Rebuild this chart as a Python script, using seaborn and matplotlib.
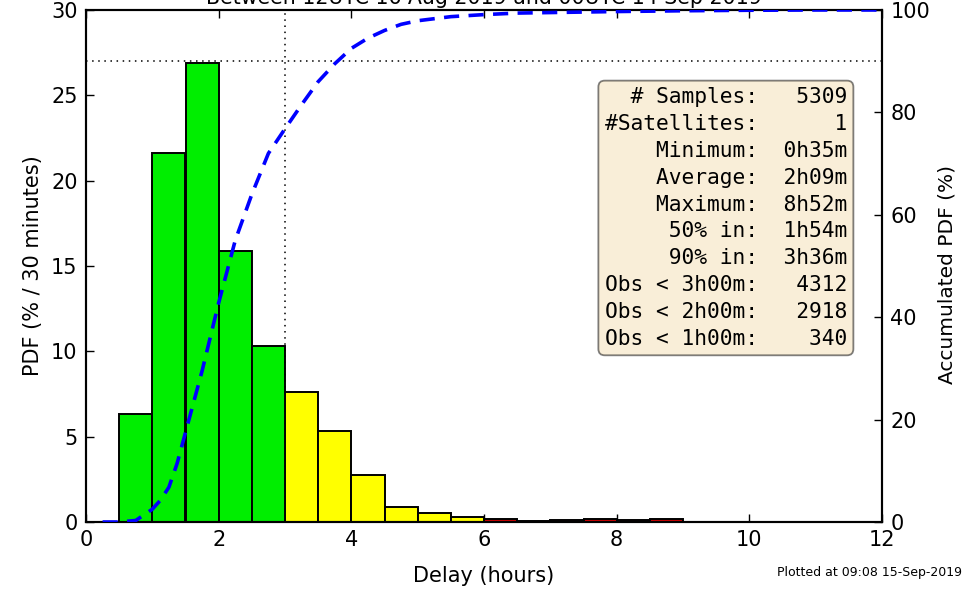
import matplotlib
matplotlib.use("Agg")
import matplotlib.pyplot as plt
import seaborn as sns
import numpy as np
import pandas as pd

# ---- data ----
bin_edges = [0.5, 1.0, 1.5, 2.0, 2.5, 3.0, 3.5, 4.0, 4.5, 5.0, 5.5, 6.0, 6.5, 7.0, 7.5, 8.0, 8.5, 9.0]
bin_centers = [0.75, 1.25, 1.75, 2.25, 2.75, 3.25, 3.75, 4.25, 4.75, 5.25, 5.75, 6.25, 6.75, 7.25, 7.75, 8.25, 8.75]
pdf_values = [6.3, 21.6, 26.9, 15.9, 10.3, 7.6, 5.35, 2.75, 0.9, 0.55, 0.3, 0.2, 0.05, 0.1, 0.15, 0.1, 0.17]
bin_class = ["ok"] * 5 + ["late"] * 6 + ["very late"] * 6

cdf_hours = [0.25, 0.5, 0.75, 1.0, 1.125, 1.25, 1.375, 1.5, 1.75, 2.0, 2.25, 2.5, 2.75, 3.0,
             3.25, 3.5, 3.75, 4.0, 4.25, 4.5, 4.75, 5.0, 5.5, 6.0, 6.5, 7.0, 7.5, 8.0, 9.0,
             10.0, 11.0, 12.0]
cdf_percent = [0, 0, 0.3, 2.5, 4.3, 6.8, 11.5, 17.5, 29.5, 42.8, 55, 64, 72, 76.8,
               81.5, 86, 89.5, 92.5, 94.5, 96, 97.2, 97.9, 98.7, 99.1, 99.4, 99.5, 99.6, 99.7, 99.85,
               99.95, 100, 100]

stats_labels = ["# Samples:", "#Satellites:", "Minimum:", "Average:", "Maximum:",
                "50% in:", "90% in:", "Obs < 3h00m:", "Obs < 2h00m:", "Obs < 1h00m:"]
stats_values = ["5309", "1", "0h35m", "2h09m", "8h52m", "1h54m", "3h36m", "4312", "2918", "340"]

title = "Between 12UTC 16 Aug 2019 and 00UTC 14 Sep 2019"
plotted = "Plotted at 09:08 15-Sep-2019"

palette = {"ok": "#00ee00", "late": "#ffff00", "very late": "#d00000"}

df = pd.DataFrame({"delay": bin_centers, "pdf": pdf_values, "cls": bin_class})
cdf_df = pd.DataFrame({"hours": cdf_hours, "pct": cdf_percent})

FS = 15

fig = plt.figure(figsize=(9.64, 5.89), dpi=100)
ax = fig.add_axes([86 / 964, 1 - 522 / 589, 796 / 964, 512 / 589])

sns.histplot(data=df, x="delay", weights="pdf", hue="cls", bins=bin_edges,
             palette=palette, multiple="layer", alpha=1, edgecolor="black",
             linewidth=1.4, legend=False, ax=ax, zorder=2)

ax.set_xlim(0, 12)
ax.set_ylim(0, 30)
ax.set_xticks([0, 2, 4, 6, 8, 10, 12])
ax.set_yticks([0, 5, 10, 15, 20, 25, 30])
ax.set_xlabel("Delay (hours)", fontsize=FS, labelpad=11)
ax.set_ylabel("PDF (% / 30 minutes)", fontsize=FS, labelpad=6)
ax.tick_params(axis="both", direction="in", length=6, width=1, labelsize=FS,
               top=True, right=False, pad=6)
for s in ax.spines.values():
    s.set_linewidth(1.5)
ax.axvline(3, color="black", linestyle=(0, (1, 3)), linewidth=1.1, zorder=3)

ax2 = ax.twinx()
sns.lineplot(data=cdf_df, x="hours", y="pct", ax=ax2, color="#0000ff",
             linewidth=2.6, zorder=4)
ax2.lines[0].set_dashes([4.2, 2.6])
ax2.axhline(90, color="black", linestyle=(0, (1, 3)), linewidth=1.1, zorder=3)
ax2.set_ylim(0, 100)
ax2.set_xlim(0, 12)
ax2.set_yticks([0, 20, 40, 60, 80, 100])
ax2.set_ylabel("Accumulated PDF (%)", fontsize=14.5)
ax2.yaxis.set_label_coords((937 - 86) / 796, (522 - 274) / 512)
ax2.tick_params(axis="y", direction="in", length=6, width=1, labelsize=FS, pad=6)
for s in ax2.spines.values():
    s.set_linewidth(1.5)

label_w = max(len(s) for s in stats_labels)
val_w = max(len(s) for s in stats_values)
lines = [f"{l:>{label_w}}  {v:>{val_w}}" for l, v in zip(stats_labels, stats_values)]
ax2.text((847 - 86) / 796, (522 - 87) / 512, "\n".join(lines), transform=ax2.transAxes,
         ha="right", va="top", family="DejaVu Sans Mono", fontsize=15.3,
         linespacing=1.43, zorder=5,
         bbox=dict(boxstyle="round,pad=0.3", facecolor="#f5deb3", alpha=0.5,
                   edgecolor="black", linewidth=1.3))

fig.text(484 / 964, 1 - 4 / 589, title, ha="center", va="baseline", fontsize=14.8)
fig.text(962 / 964, 1 - 576 / 589, plotted, ha="right", va="baseline", fontsize=9)

fig.savefig("out.png", dpi=100)
